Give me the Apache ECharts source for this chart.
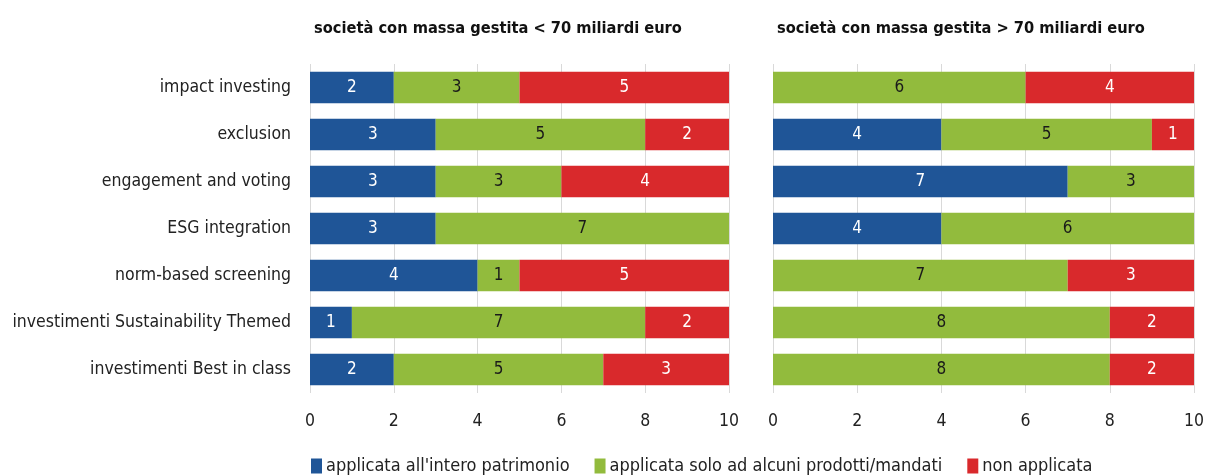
<!DOCTYPE html>
<html><head><meta charset="utf-8">
<script src="https://cdn.jsdelivr.net/npm/echarts@6/dist/echarts.min.js"></script>
<style>html,body{margin:0;padding:0;background:#fff}#c{width:1208px;height:475px}</style>
</head><body><div id="c"></div>
<script>
const categories = ["impact investing","exclusion","engagement and voting","ESG integration","norm-based screening","investimenti Sustainability Themed","investimenti Best in class"];
const seriesNames = ["applicata all'intero patrimonio","applicata solo ad alcuni prodotti/mandati","non applicata"];
const leftTitle = "società con massa gestita < 70 miliardi euro";
const rightTitle = "società con massa gestita > 70 miliardi euro";
const leftWhole = [2,3,3,3,4,1,2];
const leftSome = [3,5,3,7,1,7,5];
const leftNone = [5,2,4,0,5,2,3];
const rightWhole = [0,4,7,4,0,0,0];
const rightSome = [6,5,3,6,7,8,8];
const rightNone = [4,1,0,0,3,2,2];
const xTicks = [0,2,4,6,8,10];

const FONT = "DejaVu Sans Condensed";
const colors = ['#1f5597','#92bb3d','#d9292c'];
const labelColors = ['#ffffff','#1a1a1a','#ffffff'];

function mkSeries(data, idx, axisIdx){
  return {
    name: seriesNames[idx], type:'bar', stack:'s'+axisIdx, xAxisIndex:axisIdx, yAxisIndex:axisIdx,
    data:data, barCategoryGap:'33%', itemStyle:{color:colors[idx]},
    label:{show:true, position:'inside', color:labelColors[idx], fontFamily:FONT, fontSize:17,
      formatter:p=>p.value? String(p.value):''}
  };
}
function xAx(i){return {gridIndex:i,type:'value',min:0,max:10,interval:2,
  axisLine:{show:false},axisTick:{show:false},
  splitLine:{show:true,lineStyle:{color:'#d9d9d9',width:1}},
  axisLabel:{fontFamily:FONT,fontSize:17.5,color:'#222',margin:19,formatter:v=>xTicks.includes(v)?String(v):''}};}
function yAx(i,show){return {gridIndex:i,type:'category',data:categories,inverse:true,
  axisLine:{show:false},axisTick:{show:false},
  axisLabel:{show:show,fontFamily:FONT,fontSize:17.5,color:'#222',margin:19,padding:[3,0,0,0]}};}

const chart = echarts.init(document.getElementById('c'));
chart.setOption({
  animation:false,
  title:[
    {text:leftTitle,left:314,top:21,padding:0,textStyle:{fontFamily:FONT,fontSize:16.3,fontWeight:'bold',color:'#111'}},
    {text:rightTitle,left:777,top:21,padding:0,textStyle:{fontFamily:FONT,fontSize:16.3,fontWeight:'bold',color:'#111'}}
  ],
  legend:{left:311,top:457,padding:0,itemWidth:11,itemHeight:15,itemGap:25,icon:'rect',
    textStyle:{fontFamily:FONT,fontSize:18,color:'#222',padding:[0,0,0,-1]},
    data:seriesNames},
  grid:[
    {left:310,right:479,top:64,height:329},
    {left:773,right:14,top:64,height:329}
  ],
  xAxis:[xAx(0),xAx(1)],
  yAxis:[yAx(0,true),yAx(1,false)],
  series:[
    mkSeries(leftWhole,0,0),mkSeries(leftSome,1,0),mkSeries(leftNone,2,0),
    mkSeries(rightWhole,0,1),mkSeries(rightSome,1,1),mkSeries(rightNone,2,1)
  ]
});
</script></body></html>
